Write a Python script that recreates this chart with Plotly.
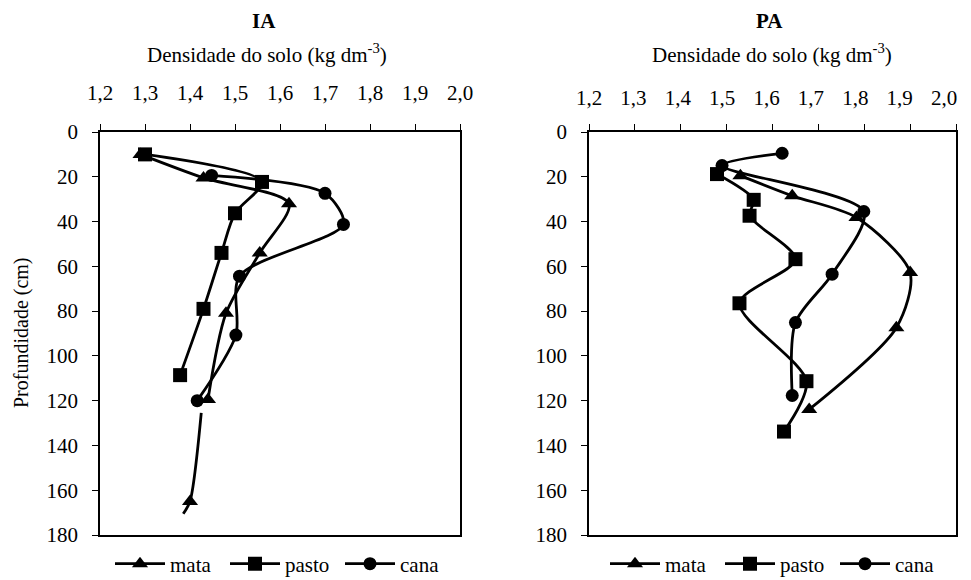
import plotly.graph_objects as go

# ---------------- data ----------------
# IA panel (densidade, profundidade)
ia_mata_x = [1.29, 1.43, 1.62, 1.555, 1.48, 1.44]
ia_mata_y = [10, 20.5, 32, 54, 81, 119.5]
ia_mata_ext_x = [1.425, 1.40, 1.385]
ia_mata_ext_y = [125.5, 165, 170.5]
ia_pasto_x = [1.30, 1.56, 1.50, 1.47, 1.43, 1.378]
ia_pasto_y = [10, 22.3, 36.3, 54, 79, 108.6]
ia_cana_x = [1.448, 1.70, 1.741, 1.51, 1.502, 1.416]
ia_cana_y = [19.4, 27.4, 41.3, 64.4, 90.7, 120]

# PA panel
pa_mata_x = [1.53, 1.643, 1.783, 1.90, 1.87, 1.68]
pa_mata_y = [19.5, 28.5, 38.2, 62.8, 87.4, 123.9]
pa_pasto_x = [1.479, 1.559, 1.55, 1.65, 1.528, 1.674, 1.625]
pa_pasto_y = [18.8, 30.3, 37.4, 56.8, 76.5, 111.3, 133.8]
pa_cana_x = [1.621, 1.49, 1.799, 1.73, 1.65, 1.643]
pa_cana_y = [9.5, 15, 35.5, 63.5, 85.1, 117.7]

x_ticks = [1.2, 1.3, 1.4, 1.5, 1.6, 1.7, 1.8, 1.9, 2.0]
y_ticks = [0, 20, 40, 60, 80, 100, 120, 140, 160, 180]
panel_titles = ["IA", "PA"]

FONT = "Liberation Serif"
FS = 21
LW = 2.8
symbols = {"mata": "triangle-up", "pasto": "square", "cana": "circle"}
sizes = {"mata": 14, "pasto": 14, "cana": 13}

# page body has an 8px margin; work in screen coordinates and shift
OFF = 8
W, H = 971 - OFF, 580 - OFF
ML = 100 - OFF
MT = 132 - OFF
MB = H - (535 - OFF)
MR = W - (956 - OFF)
PW, PH = W - ML - MR, H - MT - MB


def px(xs):
    """screen x -> paper fraction"""
    return (xs - OFF - ML) / PW


def py(ys):
    """screen y -> paper fraction"""
    return (H - MB - (ys - OFF)) / PH


fig = go.Figure()


def add_series(name, xs, ys, xa, ya, legend):
    fig.add_trace(go.Scatter(
        x=xs, y=ys, name=name, mode="lines+markers",
        line=dict(color="black", width=LW, shape="spline", smoothing=0.8),
        marker=dict(symbol=symbols[name], size=sizes[name], color="black"),
        xaxis=xa, yaxis=ya, legend=legend,
    ))


add_series("mata", ia_mata_x, ia_mata_y, "x", "y", "legend")
add_series("pasto", ia_pasto_x, ia_pasto_y, "x", "y", "legend")
add_series("cana", ia_cana_x, ia_cana_y, "x", "y", "legend")
fig.add_trace(go.Scatter(
    x=ia_mata_ext_x, y=ia_mata_ext_y, mode="lines+markers", showlegend=False,
    line=dict(color="black", width=LW, shape="spline", smoothing=0.8),
    marker=dict(symbol="triangle-up", size=sizes["mata"], color="black",
                opacity=[0, 1, 0]),
    xaxis="x", yaxis="y",
))

add_series("mata", pa_mata_x, pa_mata_y, "x2", "y2", "legend2")
add_series("pasto", pa_pasto_x, pa_pasto_y, "x2", "y2", "legend2")
add_series("cana", pa_cana_x, pa_cana_y, "x2", "y2", "legend2")
# empty trace so the label-only overlay axis is drawn
fig.add_trace(go.Scatter(x=[None], y=[None], mode="markers", showlegend=False,
                         xaxis="x3", yaxis="y2", hoverinfo="skip"))

dom_x1 = [px(100), px(460)]
dom_x2 = [px(589), px(956)]


def xaxis(domain, anchor, labels=True):
    return dict(
        domain=domain, anchor=anchor, range=[1.2, 2.0], side="top",
        tickvals=x_ticks, tickformat=".1f", ticks="outside", ticklen=6,
        tickwidth=1, tickcolor="black", showline=True, linecolor="black",
        linewidth=1.5, mirror=True, showgrid=False, zeroline=False,
        ticklabelstandoff=16, automargin=False, showticklabels=labels,
        tickfont=dict(family=FONT, size=FS, color="black"),
    )


def yaxis(anchor):
    return dict(
        domain=[0, 1], anchor=anchor, range=[180, 0],
        tickvals=y_ticks, ticks="outside", ticklen=6, tickwidth=1,
        tickcolor="black", showline=True, linecolor="black", linewidth=1.5,
        mirror=True, showgrid=False, zeroline=False,
        ticklabelstandoff=10, automargin=False,
        tickfont=dict(family=FONT, size=FS, color="black"),
    )


# label-only axis for the PA panel (labels spaced slightly tighter than ticks)
xaxis3 = dict(
    domain=dom_x2, anchor="y2", overlaying="x2", side="top",
    range=[1.2, 2.0 + 12 / 443.75], tickvals=x_ticks, tickformat=".1f",
    ticks="", showline=False, showgrid=False, zeroline=False,
    ticklabelstandoff=22, automargin=False,
    tickfont=dict(family=FONT, size=FS, color="black"),
)

legend_common = dict(
    orientation="h", xanchor="left", yanchor="middle",
    font=dict(family=FONT, size=FS, color="black"),
    bgcolor="rgba(0,0,0,0)", itemwidth=50, tracegroupgap=0,
    entrywidth=50, entrywidthmode="pixels",
)

fig.update_layout(
    width=W, height=H, margin=dict(l=ML, r=MR, t=MT, b=MB, autoexpand=False),
    paper_bgcolor="white", plot_bgcolor="white",
    separators=",.",
    xaxis=xaxis(dom_x1, "y"), yaxis=yaxis("x"),
    xaxis2=xaxis(dom_x2, "y2", labels=False), yaxis2=yaxis("x2"),
    xaxis3=xaxis3,
    legend=dict(x=px(110), y=py(564), **legend_common),
    legend2=dict(x=px(605), y=py(564), **legend_common),
    font=dict(family=FONT, color="black"),
)

annots = []
title_centers = [267, 772]
for c, t in zip(title_centers, panel_titles):
    annots.append(dict(x=px(c - 3), y=py(21), xref="paper", yref="paper",
                       text=f"<b>{t}</b>", showarrow=False,
                       font=dict(family=FONT, size=FS, color="black"),
                       xanchor="center", yanchor="middle"))
    annots.append(dict(x=px(c), y=py(53), xref="paper", yref="paper",
                       text="Densidade do solo (kg dm<sup>-3</sup>)", showarrow=False,
                       font=dict(family=FONT, size=FS, color="black"),
                       xanchor="center", yanchor="middle"))
annots.append(dict(x=px(21), y=py(333), xref="paper", yref="paper",
                   text="Profundidade (cm)", showarrow=False, textangle=-90,
                   font=dict(family=FONT, size=FS - 1, color="black"),
                   xanchor="center", yanchor="middle"))
fig.update_layout(annotations=annots)

fig.write_html("out.html")
